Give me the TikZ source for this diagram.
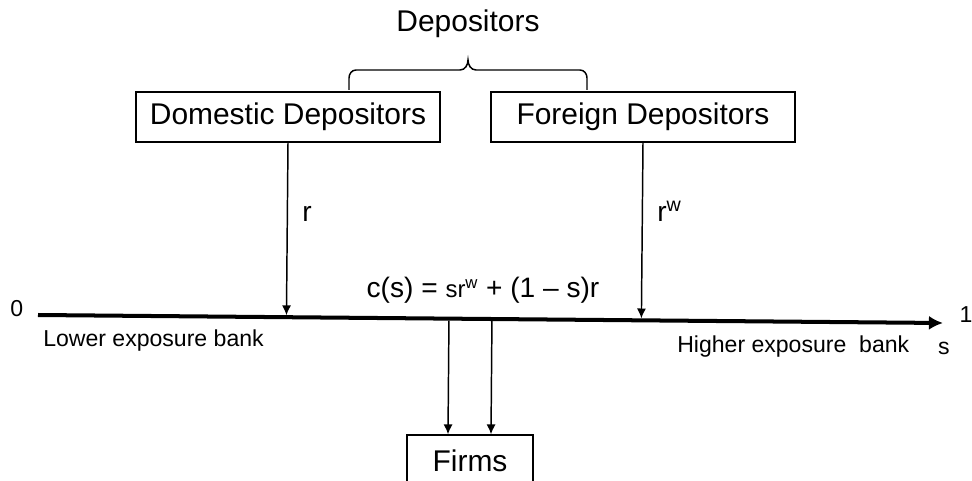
\documentclass[tikz,border=0pt]{standalone}
\usepackage{fontspec}
\setmainfont{Liberation Sans}
\usetikzlibrary{arrows.meta,calc}
\newcommand{\boxfont}{\fontsize{21.3}{25}\selectfont}
\newcommand{\labfont}{\fontsize{16.4}{19}\selectfont}
\newcommand{\ratefont}{\fontsize{20}{24}\selectfont}
\newcommand{\srfont}{\fontsize{17}{20}\selectfont}

\tikzset{
  agent/.style={draw, line width=1.05pt, inner sep=0pt, minimum width=7.6cm, minimum height=1.25cm, font=\boxfont},
  flow/.style={-{Latex[length=7pt,width=6.5pt]}, line width=1.05pt},
  axis/.style={-{Latex[length=10pt,width=10pt]}, line width=2.85pt},
  tag/.style={inner sep=0pt, anchor=base west},
}

\begin{document}
\begin{tikzpicture}
        \useasboundingbox (0,0) rectangle (24.3,12);
        \clip (0,0) rectangle (24.3,12);

        % Depositor boxes and Firms
        \node[agent] (domestic) at (7.2,9.075) {Domestic Depositors};
        \node[agent] (foreign) at (16.075,9.075) {Foreign Depositors};
        \node[agent, minimum width=3.15cm, minimum height=1.3cm] (firms) at (11.75,0.475) {Firms};
        \node[font=\boxfont, anchor=base] (deps) at (11.7,11.2) {Depositors};

        % Brace
        \draw[line width=1.05pt] (8.725,9.75) -- (8.725,10.05) to[out=90,in=180] (8.9,10.25) -- (11.5,10.25) to[out=0,in=-90] (11.7,10.5)
            to[out=-90,in=180] (11.9,10.25) -- (14.5,10.25) to[out=0,in=90] (14.675,10.05) -- (14.675,9.75);

        % Axis
        \coordinate (a0) at (0.95,4.125);
        \coordinate (a1) at (23.575,3.925);
        \draw[axis] (a0) -- (a1);
        \node[font=\labfont] (zero) at (0.42,4.275) {0};
        \node[font=\labfont] (one) at (24.15,4.125) {1};
        \node[font=\labfont, tag] (low) at (1.075,3.35) {Lower exposure bank};
        \node[font=\labfont, tag] (high) at (16.925,3.2) {Higher exposure\ \ bank};
        \node[font=\labfont, anchor=base] (svar) at (23.6,3.15) {s};

        % Funding flows
        \draw[flow, shorten >=1.4pt] (domestic.south) -- ($(a0)!(domestic.south)!(a1)$);
        \draw[flow, shorten >=1.4pt] (foreign.south) -- ($(a0)!(foreign.south)!(a1)$);
        \node[font=\ratefont, tag] (r) at (7.55,6.45) {r};
        \node[font=\ratefont, tag] (rw) at (16.425,6.45) {r\textsuperscript{w}};
        \node[font=\ratefont, anchor=base] (cost) at (12.075,4.575) {c(s) = {\srfont sr\textsuperscript{w}} + (1 – s)r};

        % Lending to firms
        \coordinate (f1) at ($(firms.north)+(-0.55,0)$);
        \coordinate (f2) at ($(firms.north)+(0.525,0)$);
        \draw[flow, shorten <=1.4pt] ($(a0)!(f1)!(a1)$) -- (f1);
        \draw[flow, shorten <=1.4pt] ($(a0)!(f2)!(a1)$) -- (f2);
\end{tikzpicture}
\end{document}
